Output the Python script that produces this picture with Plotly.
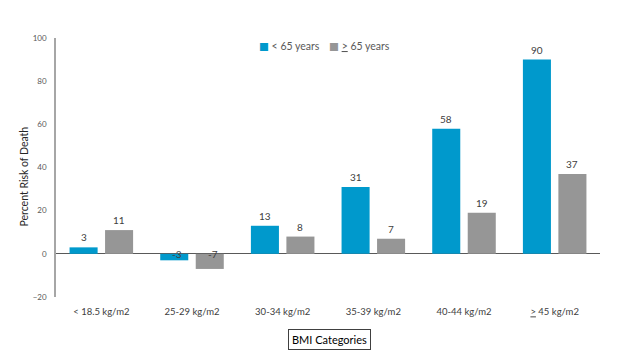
import plotly.graph_objects as go

categories = ["< 18.5 kg/m2", "25-29 kg/m2", "30-34 kg/m2", "35-39 kg/m2", "40-44 kg/m2", "<u>></u> 45 kg/m2"]
under65 = [3, -3, 13, 31, 58, 90]
over65 = [11, -7, 8, 7, 19, 37]
series_names = ["< 65 years", "<u>></u> 65 years"]
y_ticks = [-20, 0, 20, 40, 60, 80, 100]

BLUE = "#0099CC"
GRAY = "#969696"
FONT = "Lato"
colors = [BLUE, GRAY]

fig = go.Figure()
fig.add_trace(go.Bar(x=categories, y=under65, name=series_names[0], marker=dict(color=BLUE, line=dict(width=0))))
fig.add_trace(go.Bar(x=categories, y=over65, name=series_names[1], marker=dict(color=GRAY, line=dict(width=0))))

annotations = []
for series, shift in ((under65, -17.75), (over65, 17.75)):
    for cat, v in zip(categories, series):
        if v >= 0:
            annotations.append(dict(x=cat, y=v, xref="x", yref="y", text=str(v), showarrow=False,
                                    xshift=shift, yshift=2, yanchor="bottom",
                                    font=dict(family=FONT, size=10, color="#404040")))
        else:
            annotations.append(dict(x=cat, y=0, xref="x", yref="y", text=str(v), showarrow=False,
                                    xshift=shift + 3, yanchor="middle",
                                    font=dict(family=FONT, size=10, color="#404040")))

# y-axis title
annotations.append(dict(x=0, xshift=-33, xref="paper", y=0.5, yshift=-9, yref="paper",
                        text="Percent Risk of Death", textangle=-90, showarrow=False,
                        xanchor="center", yanchor="middle",
                        font=dict(family=FONT, size=10.5, color="#262626")))

# x-axis title box
annotations.append(dict(x=0.502, xref="paper", y=0, yref="paper", yshift=-42, text="BMI Categories",
                        showarrow=False, xanchor="center", yanchor="middle",
                        bordercolor="#404040", borderwidth=1, borderpad=3, bgcolor="white",
                        font=dict(family=FONT, size=11, color="#000000")))

# legend entries
for name, col, lx in zip(series_names, colors, (0.369, 0.498)):
    annotations.append(dict(x=lx, xref="paper", y=1, yref="paper", yshift=-8,
                            text=f"<span style='color:{col};font-family:DejaVu Sans'>■</span> {name}",
                            showarrow=False, xanchor="left", yanchor="middle",
                            font=dict(family=FONT, size=10.5, color="#595959")))

fig.update_layout(
    width=624, height=351,
    margin=dict(l=56, r=24, t=38, b=54),
    paper_bgcolor="white", plot_bgcolor="white",
    barmode="group", bargap=0.217, bargroupgap=0.21,
    font=dict(family=FONT, size=10, color="#404040"),
    showlegend=False,
    annotations=annotations,
)
fig.update_xaxes(showline=False, showgrid=False, ticks="outside", ticklen=6, tickcolor="rgba(0,0,0,0)",
                 tickfont=dict(family=FONT, size=9.5, color="#404040"), fixedrange=True)
fig.update_yaxes(range=[-20, 100], tickvals=y_ticks, showgrid=False, showline=True, linecolor="#A6A6A6",
                 linewidth=1.5, zeroline=True, zerolinecolor="#595959", zerolinewidth=1.2,
                 ticks="outside", ticklen=6, tickcolor="rgba(0,0,0,0)",
                 tickfont=dict(family=FONT, size=8, color="#595959"), fixedrange=True)

fig.write_html("out.html")
